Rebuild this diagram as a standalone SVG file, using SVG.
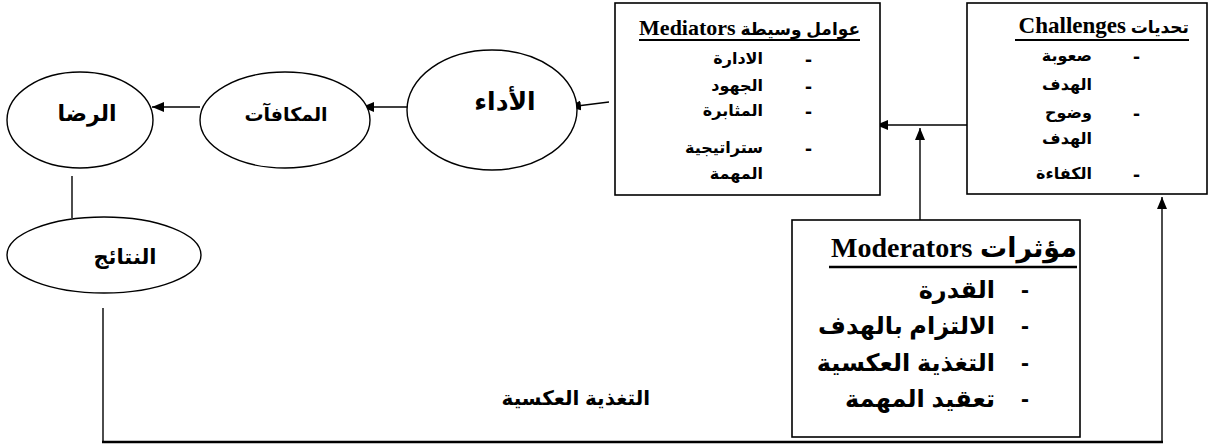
<svg xmlns="http://www.w3.org/2000/svg" width="1228" height="446" viewBox="0 0 1228 446">
<style>
.box{fill:#fff;stroke:#000;stroke-width:1.6}
.ell{fill:#fff;stroke:#000;stroke-width:1.4}
.ln{fill:none;stroke:#000;stroke-width:1.4}
.ar{font-family:"Liberation Sans","DejaVu Sans",sans-serif;font-weight:bold;fill:#000}
.en{font-family:"Liberation Serif","DejaVu Serif",serif;font-weight:bold;fill:#000}
.s15{font-size:16px}
.d{font-size:21px}
.s24{font-size:24px}
.ul{stroke:#000;stroke-width:2}
</style>
<defs>
<marker id="ah" viewBox="0 0 12 10" refX="12" refY="5" markerWidth="12" markerHeight="10" markerUnits="userSpaceOnUse" orient="auto">
<path d="M0,0 L12,5 L0,10 Z" fill="#000"/>
</marker>
</defs>
<rect width="1228" height="446" fill="#fff"/>

<g id="connectors">
<line class="ln" x1="967" y1="125" x2="876" y2="125" marker-end="url(#ah)"/>
<line class="ln" x1="920" y1="221" x2="920" y2="128" marker-end="url(#ah)"/>
<line class="ln" x1="1162" y1="442" x2="1162" y2="197" marker-end="url(#ah)"/>
<line x1="102" y1="442" x2="1163" y2="442" stroke="#000" stroke-width="2.4"/>
<line class="ln" x1="103" y1="308" x2="103" y2="442"/>
<line class="ln" x1="609" y1="102" x2="569" y2="107" marker-end="url(#ah)"/>
<line class="ln" x1="408" y1="107" x2="362" y2="107" marker-end="url(#ah)"/>
<line class="ln" x1="200" y1="107" x2="152" y2="107" marker-end="url(#ah)"/>
<line class="ln" x1="72" y1="176" x2="72" y2="218"/>
</g>

<g id="challenges">
<rect class="box" x="967" y="3" width="240" height="191"/>
<text x="1189" y="33" text-anchor="end"><tspan class="en" font-size="23">Challenges</tspan><tspan class="ar" font-size="17"> تحديات</tspan></text>
<line class="ul" x1="1015" y1="40" x2="1189" y2="40"/>
<text class="ar d" x="1133" y="63">-</text>
<text class="ar s15" x="1092" y="61" text-anchor="end">صعوبة</text>
<text class="ar s15" x="1092" y="90" text-anchor="end">الهدف</text>
<text class="ar d" x="1133" y="120">-</text>
<text class="ar s15" x="1092" y="118" text-anchor="end">وضوح</text>
<text class="ar s15" x="1092" y="144" text-anchor="end">الهدف</text>
<text class="ar d" x="1133" y="181">-</text>
<text class="ar s15" x="1092" y="179" text-anchor="end">الكفاءة</text>
</g>

<g id="mediators">
<rect class="box" x="615" y="3" width="265" height="192"/>
<text x="860" y="35" text-anchor="end"><tspan class="en" font-size="22">Mediators</tspan><tspan class="ar" font-size="17"> عوامل وسيطة</tspan></text>
<line class="ul" x1="639" y1="40" x2="860" y2="40"/>
<text class="ar d" x="805" y="66">-</text>
<text class="ar s15" x="763" y="64" text-anchor="end">الادارة</text>
<text class="ar d" x="805" y="93">-</text>
<text class="ar s15" x="763" y="91" text-anchor="end">الجهود</text>
<text class="ar d" x="805" y="118">-</text>
<text class="ar s15" x="763" y="116" text-anchor="end">المثابرة</text>
<text class="ar d" x="805" y="155">-</text>
<text class="ar s15" x="763" y="153" text-anchor="end">ستراتيجية</text>
<text class="ar s15" x="763" y="179" text-anchor="end">المهمة</text>
</g>

<g id="moderators">
<rect class="box" x="792" y="220" width="288" height="217"/>
<text x="1077" y="257" text-anchor="end"><tspan class="en" font-size="28">Moderators</tspan><tspan class="ar" font-size="27"> مؤثرات</tspan></text>
<line x1="829" y1="267" x2="1077" y2="267" stroke="#000" stroke-width="2.6"/>
<text class="ar s24" x="1021" y="298">-</text>
<text class="ar s24" x="995" y="298" text-anchor="end">القدرة</text>
<text class="ar s24" x="1021" y="334">-</text>
<text class="ar s24" x="995" y="334" text-anchor="end">الالتزام بالهدف</text>
<text class="ar s24" x="1021" y="371">-</text>
<text class="ar s24" x="995" y="371" text-anchor="end">التغذية العكسية</text>
<text class="ar s24" x="1021" y="407">-</text>
<text class="ar s24" x="995" y="407" text-anchor="end">تعقيد المهمة</text>
</g>

<g id="performance">
<ellipse class="ell" cx="492" cy="110" rx="85" ry="60"/>
<text class="ar" font-size="25" x="505" y="110" text-anchor="middle">الأداء</text>
</g>

<g id="rewards">
<ellipse class="ell" cx="285" cy="120" rx="85" ry="48"/>
<text class="ar" font-size="19" x="286" y="121" text-anchor="middle">المكافآت</text>
</g>

<g id="satisfaction">
<ellipse class="ell" cx="80" cy="120" rx="73" ry="48"/>
<text class="ar" font-size="22" x="87" y="121" text-anchor="middle">الرضا</text>
</g>

<g id="results">
<ellipse class="ell" cx="104" cy="255" rx="97" ry="38"/>
<text class="ar" font-size="21" x="125" y="264" text-anchor="middle">النتائج</text>
</g>

<g id="feedback-label">
<text class="ar" font-size="20" x="650" y="405" text-anchor="end">التغذية العكسية</text>
</g>
</svg>
